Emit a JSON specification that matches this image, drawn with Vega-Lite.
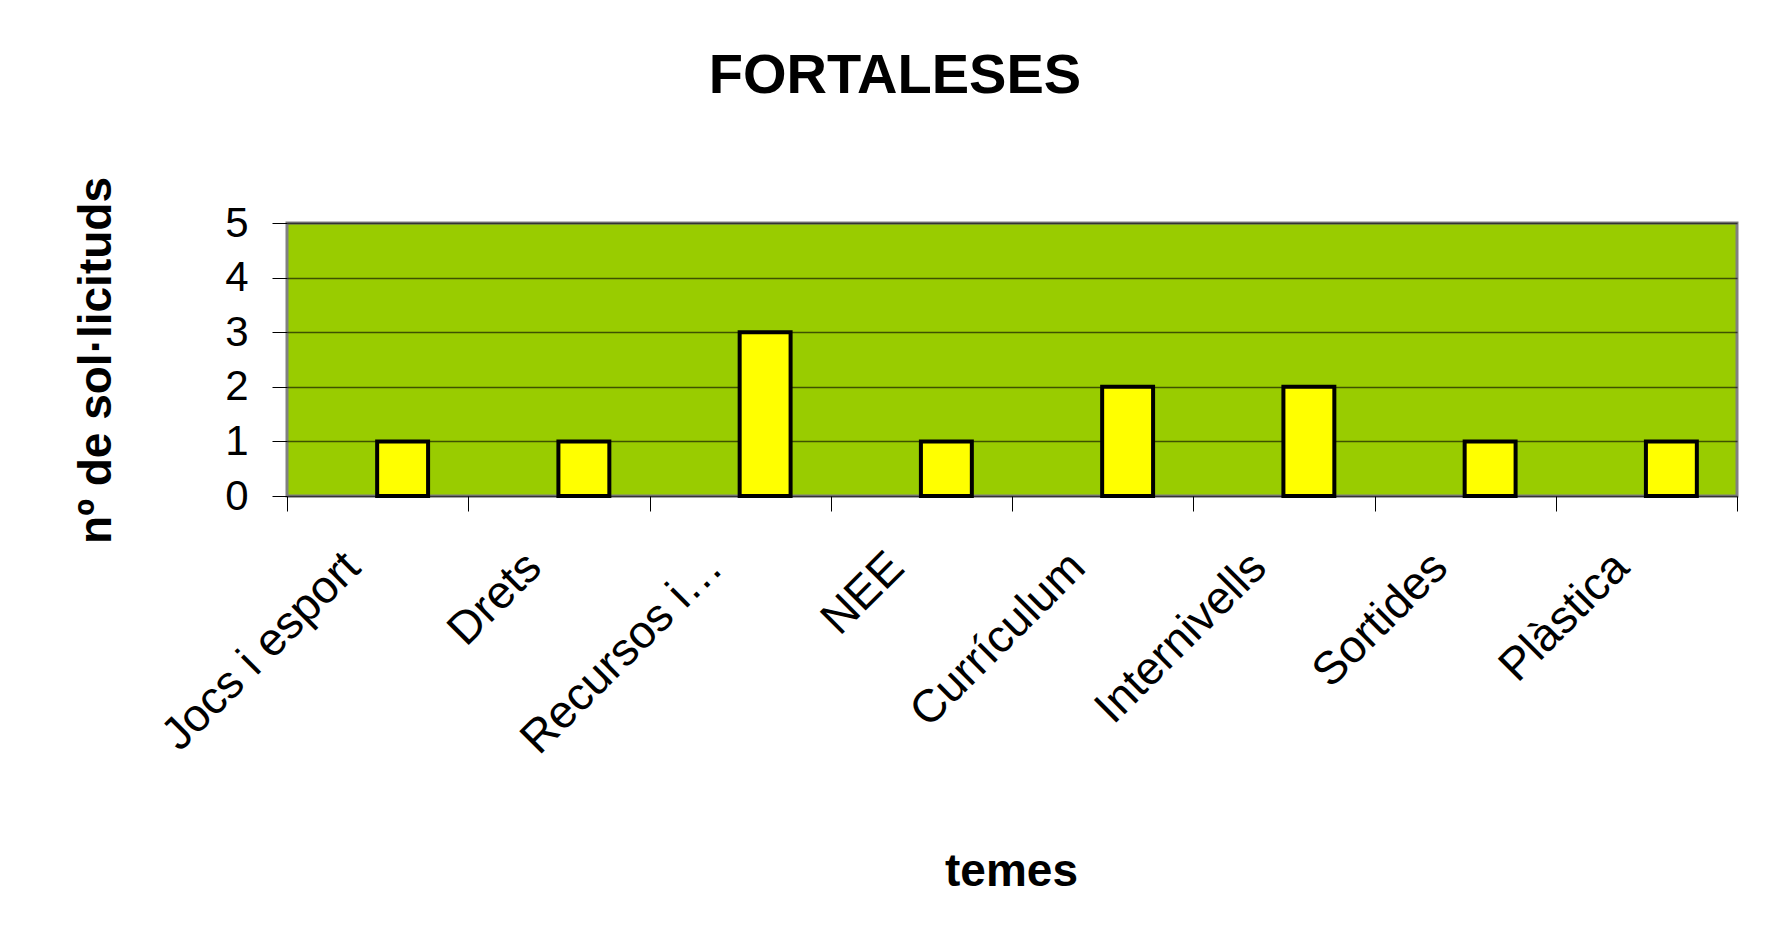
{
  "$schema": "https://vega.github.io/schema/vega-lite/v6.json",
  "width": 1450,
  "height": 273,
  "autosize": {"type": "none"},
  "padding": {"left": 287, "top": 223, "right": 30, "bottom": 456},
  "background": "white",
  "title": {
    "text": "FORTALESES",
    "font": "Liberation Sans",
    "fontSize": 56,
    "fontWeight": "bold",
    "color": "black",
    "anchor": "middle",
    "frame": "group",
    "baseline": "alphabetic",
    "dx": -117,
    "offset": 28
  },
  "data": {
    "values": [
      {"tema": "Jocs i esport", "n": 1},
      {"tema": "Drets", "n": 1},
      {"tema": "Recursos i…", "n": 3},
      {"tema": "NEE", "n": 1},
      {"tema": "Currículum", "n": 2},
      {"tema": "Internivells", "n": 2},
      {"tema": "Sortides", "n": 1},
      {"tema": "Plàstica", "n": 1}
    ]
  },
  "mark": {
    "type": "bar",
    "fill": "#FFFF00",
    "stroke": "#000000",
    "strokeWidth": 4,
    "width": {"band": 0.281},
    "xOffset": 25
  },
  "encoding": {
    "x": {
      "field": "tema",
      "type": "nominal",
      "sort": null,
      "scale": {"paddingInner": 0, "paddingOuter": 0},
      "axis": {
        "title": "temes",
        "titleFontSize": 46,
        "titleFontWeight": "bold",
        "titleBaseline": "alphabetic",
        "titleAlign": "center",
        "titleX": 724,
        "titleY": 389,
        "labelAngle": -45,
        "labelAlign": "right",
        "labelBaseline": "top",
        "labelFontSize": 46,
        "labelOffset": -41,
        "labelPadding": 33,
        "labelLimit": 0,
        "labelOverlap": false,
        "tickBand": "extent",
        "domain": false,
        "grid": false
      }
    },
    "y": {
      "field": "n",
      "type": "quantitative",
      "scale": {"domain": [0, 5], "nice": false},
      "axis": {
        "title": "nº de sol·licituds",
        "titleFontSize": 46,
        "titleFontWeight": "bold",
        "titleAngle": 270,
        "titleBaseline": "alphabetic",
        "titleAlign": "center",
        "titleX": -177,
        "titleY": 137,
        "values": [0, 1, 2, 3, 4, 5],
        "format": "d",
        "labelFontSize": 42,
        "labelPadding": 24,
        "domain": false,
        "grid": true,
        "gridColor": "#000000",
        "gridOpacity": 0.6,
        "gridWidth": 1.5
      }
    }
  },
  "config": {
    "font": "Liberation Sans",
    "view": {"fill": "#99CC00", "stroke": "#808080", "strokeWidth": 3},
    "axis": {
      "labelColor": "#000000",
      "titleColor": "#000000",
      "labelFont": "Liberation Sans",
      "titleFont": "Liberation Sans",
      "tickColor": "#000000",
      "tickWidth": 1,
      "tickSize": 15
    }
  }
}
